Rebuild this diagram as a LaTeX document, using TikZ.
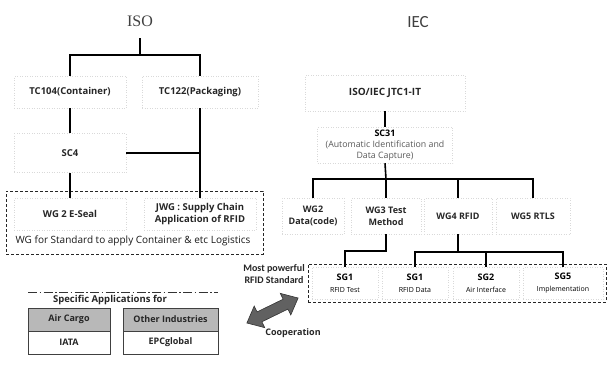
\documentclass[tikz,border=0pt]{standalone}
\usepackage{fontspec}
\setmainfont{Open Sans}
\newfontfamily\isofont{Liberation Serif}
\newfontfamily\iecfont{Carlito}
\begin{document}
\begin{tikzpicture}[x=1pt,y=-1pt,
  tree/.style={line width=1.6pt,black},
  faint/.style={draw=black!15,dotted,line width=0.5pt},
  wbox/.style={faint,inner sep=1pt,align=center,minimum width=#1},
  outerdash/.style={draw=black!85,line width=0.9pt,dash pattern=on 3pt off 2pt},
  lbl/.style={font=\bfseries\fontsize{9.5}{11}\selectfont,text=black!85},
  appbox/.style={draw=black!75,line width=0.8pt,minimum height=23,inner sep=1pt,font=\bfseries\fontsize{9}{10}\selectfont,text=black!85}
]
\useasboundingbox (0,0) rectangle (608,365);

% ---------- ISO side ----------
\node[font=\isofont\fontsize{16}{16}\selectfont,minimum height=34,inner sep=0,text=black!75] (iso) at (140,21) {ISO};
\node[wbox=112,minimum height=32,lbl] (tc104) at (70,92) {TC104(Container)};
\node[wbox=116,minimum height=32,lbl] (tc122) at (200,92) {TC122(Packaging)};
\node[wbox=112,minimum height=39,lbl] (sc4) at (70,153) {SC4};
\node[outerdash,minimum width=257,minimum height=63,inner sep=0] (isowg) at (134.5,222.5) {};
\node[wbox=112,minimum height=32,lbl] (eseal) at (70,214) {WG 2 E-Seal};
\node[wbox=112,minimum height=32,lbl,font=\bfseries\fontsize{9.5}{12}\selectfont] (jwg) at (200,214) {JWG : Supply Chain\\Application of RFID};
\node[font=\fontsize{10}{11}\selectfont,text=black!90] (isowgl) at (133,241) {WG for Standard to apply Container \& etc Logistics};

\coordinate (isobar) at (140,55);
\draw[tree] (iso.south) -- (isobar) -| (tc104.north);
\draw[tree] (isobar) -| (tc122.north);
\draw[tree] (tc104.south) -- (sc4.north);
\draw[tree] (tc122.south) -- (jwg.north);
\draw[tree] (sc4.east) -- (sc4.east -| tc122.south);
\draw[tree] (sc4.south) -- (eseal.north);

% ---------- IEC side ----------
\node[font=\iecfont\fontsize{17}{17}\selectfont,text=black!75] (iec) at (418,22) {IEC};
\node[wbox=160,minimum height=36,font=\bfseries\fontsize{10}{11}\selectfont,text=black!85] (jtc) at (385,93) {ISO/IEC JTC1-IT};
\node[wbox=135,minimum height=36,align=center] (sc31) at (385,145)
  {{\bfseries\fontsize{9}{11}\selectfont SC31}\\[-1pt]
   {\fontsize{8.8}{10}\selectfont\color{black!65}(Automatic Identification and}\\[-1pt]
   {\fontsize{8.8}{10}\selectfont\color{black!65}Data Capture)}};
\node[wbox=62,minimum height=36,lbl,font=\bfseries\fontsize{9}{12}\selectfont] (wg2) at (313,216) {WG2\\Data(code)};
\node[wbox=70,minimum height=36,lbl,font=\bfseries\fontsize{9}{12}\selectfont] (wg3) at (386,216) {WG3 Test\\Method};
\node[wbox=68,minimum height=36,lbl,font=\bfseries\fontsize{9}{12}\selectfont] (wg4) at (458,216) {WG4 RFID};
\node[wbox=74,minimum height=36,lbl,font=\bfseries\fontsize{9}{12}\selectfont] (wg5) at (533,216) {WG5 RTLS};

\coordinate (iecbar) at (386,179);
\draw[tree] (jtc.south) -- (sc31.north);
\draw[tree] (sc31.south) -- (iecbar);
\draw[tree] (wg2.north) |- (iecbar) -| (wg5.north);
\draw[tree] (iecbar) -- (wg3.north);
\draw[tree] (iecbar -| wg4.north) -- (wg4.north);

\node[outerdash,minimum width=298,minimum height=38,inner sep=0] (sgbox) at (457,283) {};
\node[wbox=66,minimum height=32] (sga) at (345,283) {{\bfseries\fontsize{9}{11}\selectfont SG1}\\{\fontsize{7}{9}\selectfont RFID Test}};
\node[wbox=66,minimum height=32] (sgb) at (415,283) {{\bfseries\fontsize{9}{11}\selectfont SG1}\\{\fontsize{7}{9}\selectfont RFID Data}};
\node[wbox=66,minimum height=32] (sgc) at (486,283) {{\bfseries\fontsize{9}{11}\selectfont SG2}\\{\fontsize{7}{9}\selectfont Air Interface}};
\node[wbox=80,minimum height=32] (sge) at (563,283) {{\bfseries\fontsize{9}{11}\selectfont SG5}\\{\fontsize{7}{9}\selectfont Implementation}};

\coordinate (wg3bar) at (386,251);
\coordinate (wg4bar) at (458,252);
\draw[tree,line width=1.3pt] (wg3.south) -- (wg3bar) -| (sga.north);
\draw[tree,line width=1.3pt] (wg4.south) -- (wg4bar);
\draw[tree,line width=1.3pt] (sgb.north) |- (wg4bar) -| (sge.north);
\draw[tree,line width=1.3pt] (wg4bar -| sgc.north) -- (sgc.north);

% ---------- bottom left ----------
\node[align=center,font=\iecfont\bfseries\fontsize{10}{12}\selectfont,text=black!85] (mp) at (274,274) {Most powerful\\RFID Standard};
\coordinate (ddl) at (28,292);
\coordinate (ddr) at (218,292);
\draw[black!80,line width=1pt,dash pattern=on 9pt off 2.5pt on 1.5pt off 2.5pt] (ddl) -- (ddr);
\node[lbl,font=\bfseries\fontsize{9.5}{11}\selectfont] (spec) at (110,300) {Specific Applications for};
\node[appbox,fill=black!28,minimum width=82] (air) at (69,319.5) {Air Cargo};
\node[appbox,minimum width=82] (iata) at (69,342.5) {IATA};
\node[appbox,fill=black!28,minimum width=95] (other) at (170.5,319.5) {Other Industries};
\node[appbox,minimum width=95] (epc) at (170.5,342.5) {EPCglobal};

\begin{scope}[shift={(272.5,310.5)},rotate=26]
  \draw[fill=black!62,draw=black!80,line width=0.6pt,line join=miter]
    (-28.5,0) -- (-14.5,-12) -- (-14.5,-5.5) -- (14.5,-5.5) -- (14.5,-12) -- (28.5,0)
    -- (14.5,12) -- (14.5,5.5) -- (-14.5,5.5) -- (-14.5,12) -- cycle;
\end{scope}
\node[lbl,font=\bfseries\fontsize{9}{11}\selectfont] (cooplbl) at (293,333) {Cooperation};
\end{tikzpicture}
\end{document}
